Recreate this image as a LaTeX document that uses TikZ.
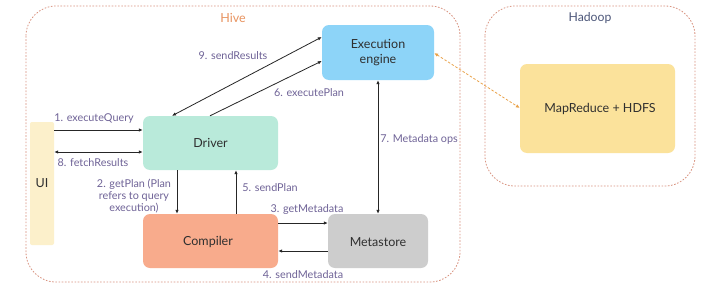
\documentclass[tikz,border=0pt]{standalone}
\usepackage{fontspec}
\setmainfont{Lato}
\usetikzlibrary{arrows.meta}
\definecolor{execblue}{HTML}{8DD4F8}
\definecolor{mrgold}{HTML}{FBE29B}
\definecolor{drvgreen}{HTML}{B9EADA}
\definecolor{uicream}{HTML}{FCF0CB}
\definecolor{cmpsalmon}{HTML}{F8AB8C}
\definecolor{metagray}{HTML}{CDCDCD}
\definecolor{labelpurple}{HTML}{6F6397}
\definecolor{hiveorange}{HTML}{E8935F}
\definecolor{hadoopblue}{HTML}{4C5679}
\definecolor{borderred}{HTML}{D99380}
\definecolor{dashorange}{HTML}{EAA34A}
\definecolor{nodetext}{HTML}{2F2F2F}
\tikzset{
  box/.style={rounded corners=7pt, inner sep=0pt, text=nodetext, font=\fontsize{12.5}{15}\selectfont, align=center},
  group/.style={draw=borderred, line width=0.8pt, dash pattern=on 1.6pt off 1.6pt, rounded corners=30pt},
  flow/.style={draw=black!85, line width=0.8pt, -{Latex[length=4pt,width=3.5pt]}},
  both/.style={draw=black!85, line width=0.8pt, {Latex[length=4pt,width=3.5pt]}-{Latex[length=4pt,width=3.5pt]}},
  lbl/.style={text=labelpurple, font=\fontsize{10.8}{12}\selectfont, inner sep=0pt},
}
\begin{document}
\begin{tikzpicture}[x=1pt,y=-1pt]
\useasboundingbox[fill=white] (0,0) rectangle (720,289);

% group frames
\draw[group] (26,6) rectangle (460,282);
\draw[group] (485,6) rectangle (695,186);
\node[text=hiveorange, font=\fontsize{12.5}{15}\selectfont] (hive) at (233,18) {Hive};
\node[text=hadoopblue, font=\fontsize{12.2}{15}\selectfont] (hadoop) at (590,18) {Hadoop};

% components (filled bodies, then the named nodes carrying the text)
\path[box, fill=execblue] (322,25) rectangle (434,80);
\node[box, minimum width=112pt, minimum height=55pt] (exec) at (378,52.5) {Execution\\engine};
\path[box, fill=mrgold] (520,64) rectangle (675,153);
\node[box, minimum width=155pt, minimum height=89pt] (mr) at (597.5,108.5) {};
\node[box] (mrtext) at (600,108.5) {MapReduce + HDFS};
\path[box, fill=drvgreen] (143,116) rectangle (278,170);
\node[box, minimum width=135pt, minimum height=54pt] (drv) at (210.5,143) {Driver};
\path[box, fill=uicream, rounded corners=2pt] (30,122) rectangle (54,245);
\node[box, minimum width=24pt, minimum height=123pt] (ui) at (42,183.5) {UI};
\path[box, fill=cmpsalmon] (143,214) rectangle (278,268);
\node[box, minimum width=135pt, minimum height=54pt] (cmp) at (210.5,241) {};
\node[box] (cmptext) at (208,242) {Compiler};
\path[box, fill=metagray] (328,214) rectangle (428,268);
\node[box, minimum width=100pt, minimum height=54pt] (meta) at (378,241) {};
\node[box] (metatext) at (378,242) {Metastore};

% connectors
\draw[both] (exec.west |- 0,37) -- (drv.north -| 172,0);
\draw[flow] (drv.north -| 210,0) -- (exec.west |- 0,61);
\draw[flow] (ui.east |- 0,130) -- (drv.west |- 0,130);
\draw[both] (ui.east |- 0,152) -- (drv.west |- 0,152);
\draw[flow] (drv.south -| 177,0) -- (cmp.north -| 177,0);
\draw[flow] (cmp.north -| 236,0) -- (drv.south -| 236,0);
\draw[flow] (cmp.east |- 0,223) -- (meta.west |- 0,223);
\draw[flow] (meta.west |- 0,251) -- (cmp.east |- 0,251);
\draw[both] (exec.south) -- (meta.north);
\draw[draw=dashorange, line width=0.8pt, dash pattern=on 2.5pt off 1.8pt, {Latex[length=4pt,width=3.5pt]}-{Latex[length=4pt,width=3.5pt]}] (exec.east |- 0,53) -- (mr.west |- 0,108);

% connector labels
\node[lbl] (l9) at (233,56) {9. sendResults};
\node[lbl] (l6) at (309,93) {6. executePlan};
\node[lbl] (l1) at (94,119) {1. executeQuery};
\node[lbl] (l8) at (93,163) {8. fetchResults};
\node[lbl, align=center] (l2) at (134,196) {2. getPlan (Plan\\refers to query\\execution)};
\node[lbl] (l5) at (270,188) {5. sendPlan};
\node[lbl] (l3) at (307,210) {3. getMetadata};
\node[lbl] (l4) at (303,275) {4. sendMetadata};
\node[lbl] (l7) at (419,139) {7. Metadata ops};
\end{tikzpicture}
\end{document}
